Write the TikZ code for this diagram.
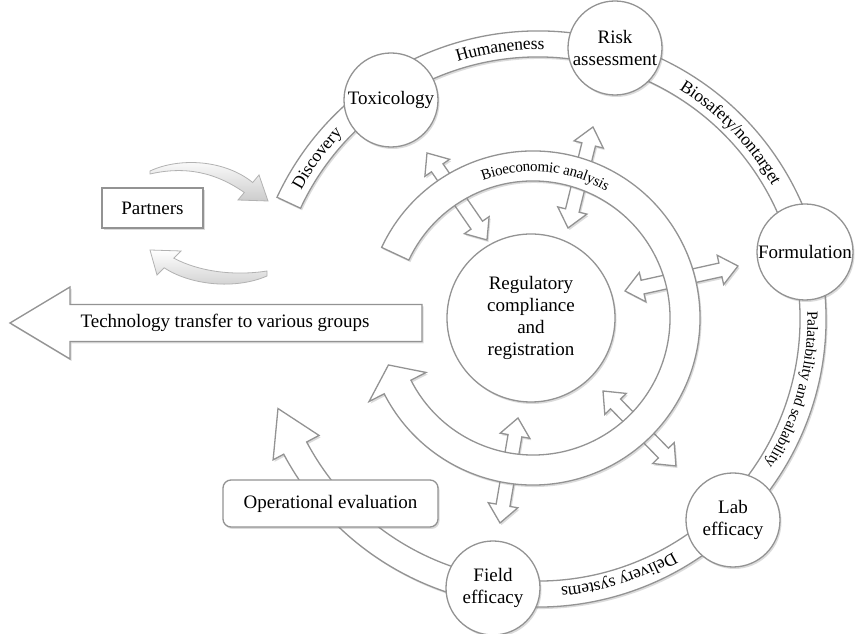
\documentclass[tikz,border=0pt]{standalone}
\usepackage{fontspec}
\setmainfont{Liberation Serif}
\usetikzlibrary{calc,shadows,decorations.text}
\newcommand\lblfont{\fontsize{19}{22}\selectfont}
\newcommand\dblarrow[2]{%
  \draw[dblsty] let \p1=($(#2)-(#1)$), \n1={atan2(\y1,\x1)}, \n2={veclen(\x1,\y1)} in
    ([shift={(#1)},rotate=\n1]0,0)
    -- ([shift={(#1)},rotate=\n1]18,15)
    -- ([shift={(#1)},rotate=\n1]18,7)
    -- ([shift={(#1)},rotate=\n1]{\n2-18},7)
    -- ([shift={(#1)},rotate=\n1]{\n2-18},15)
    -- ([shift={(#1)},rotate=\n1]{\n2},0)
    -- ([shift={(#1)},rotate=\n1]{\n2-18},-15)
    -- ([shift={(#1)},rotate=\n1]{\n2-18},-7)
    -- ([shift={(#1)},rotate=\n1]18,-7)
    -- ([shift={(#1)},rotate=\n1]18,-15)
    -- cycle;}
\begin{document}
\begin{tikzpicture}[x=1pt,y=1pt,
  outl/.style={draw=gray!85, line width=1.3pt},
  shad/.style={drop shadow={opacity=0.28, shadow xshift=1.5pt, shadow yshift=-2pt}},
  band/.style={outl, fill=white, shad},
  dblsty/.style={outl, fill=white, shad},
  circ/.style={circle, outl, fill=white, shad, minimum size=94pt, inner sep=0pt,
    align=center, font=\lblfont},
  box/.style={rectangle, outl, fill=white, shad, inner sep=0pt, font=\lblfont},
  swoosh/.style={draw=gray!60, line width=0.8pt, top color=white, bottom color=gray!40},
  lbl/.style={font=\lblfont, inner sep=0pt},
  bandtext/.style={decorate, decoration={text along path, text align=center, raise=-5.5pt, text={#1}}}
]
\fill[white] (0,0) rectangle (857,634);
\useasboundingbox (0,0) rectangle (857,634);

\coordinate (C1) at (538,315);
\coordinate (C2) at (533,316);

% swoosh arrows beside Partners
\draw[swoosh] (150,463) .. controls (180,477) and (225,474) .. (252.7,451.5)
  -- (259,459) -- (268,433) -- (238,434) -- (244.3,441.5)
  .. controls (215,462) and (185,468) .. (150,460) -- cycle;
\draw[swoosh] (150,384) -- (157,359) -- (164.2,366.2)
  .. controls (190,349) and (235,344) .. (267,358) -- (267,363)
  .. controls (235,358) and (200,362) .. (173.8,375.8) -- (181,383) -- cycle;

% Partners
\node[box, minimum width=101pt, minimum height=40pt] (partners) at (152.5,426) {Partners};

% Technology transfer arrow
\draw[band] (10,311) -- (70,347) -- (70,329.5) -- (422,329.5) -- (422,292.5)
  -- (70,292.5) -- (70,275) -- cycle;
\node[lbl] (tech) at (225,311) {Technology transfer to various groups};

% double arrows
\coordinate (a1s) at (427,481); \coordinate (a1e) at (487,394);
\coordinate (a2s) at (593,507); \coordinate (a2e) at (568,406);
\coordinate (a3s) at (625,343); \coordinate (a3e) at (738,368);
\coordinate (a4s) at (603,243); \coordinate (a4e) at (676,168);
\coordinate (a5s) at (518,216); \coordinate (a5e) at (500,111);
\dblarrow{a1s}{a1e}
\dblarrow{a2s}{a2e}
\dblarrow{a3s}{a3e}
\dblarrow{a4s}{a4e}
\dblarrow{a5s}{a5e}

% inner ring
\draw[band] ($(C2)+(155:167)$) arc[start angle=155, end angle=-153, radius=167]
  -- ($(C2)+(-153:184)$) -- ($(C2)+(-162:152)$) -- ($(C2)+(-153:120)$)
  -- ($(C2)+(-153:137)$) arc[start angle=-153, end angle=155, radius=137] -- cycle;
\path[bandtext={|\fontsize{15}{15}\selectfont|Bioeconomic analysis}]
  ($(C2)+(135:152)$) arc[start angle=135, end angle=35, radius=152];

% centre
\node[circ, minimum size=168pt] (reg) at (531,316) {Regulatory\\compliance\\and\\registration};

% outer ring
\draw[band] ($(C1)+(155:288)$) arc[start angle=155, end angle=-152, radius=288]
  -- ($(C1)+(-152:300)$) -- ($(C1)+(-161:275)$) -- ($(C1)+(-152:248)$)
  -- ($(C1)+(-152:262)$) arc[start angle=-152, end angle=155, radius=262] -- cycle;

% operational evaluation
\node[box, rounded corners=8pt, minimum width=215pt, minimum height=47pt] (op) at (330.5,130.5) {Operational evaluation};

% circles
\node[circ] (tox) at (391,534) {Toxicology};
\node[circ] (risk) at (615,586) {Risk\\assessment};
\node[circ, minimum size=96pt] (form) at (805,382) {Formulation};
\node[circ] (lab) at (733,114) {Lab\\efficacy};
\node[circ] (field) at (493,46) {Field\\efficacy};

% band labels
\path[bandtext={|\fontsize{17.5}{17}\selectfont|Discovery}]
  ($(C1)+(170:275)$) arc[start angle=170, end angle=118, radius=275];
\path[bandtext={|\fontsize{17.5}{17}\selectfont|Humaneness}]
  ($(C1)+(130:275)$) arc[start angle=130, end angle=66, radius=275];
\path[bandtext={|\fontsize{17.5}{17}\selectfont|Biosafety/nontarget}]
  ($(C1)+(70:275)$) arc[start angle=70, end angle=18, radius=275];
\path[bandtext={|\fontsize{15.5}{15}\selectfont|Palatability and scalability}]
  ($(C1)+(20:275)$) arc[start angle=20, end angle=-51, radius=275];
\path[bandtext={|\fontsize{17.5}{17}\selectfont|Delivery systems}]
  ($(C1)+(-45:275)$) arc[start angle=-45, end angle=-100, radius=275];
\end{tikzpicture}
\end{document}
